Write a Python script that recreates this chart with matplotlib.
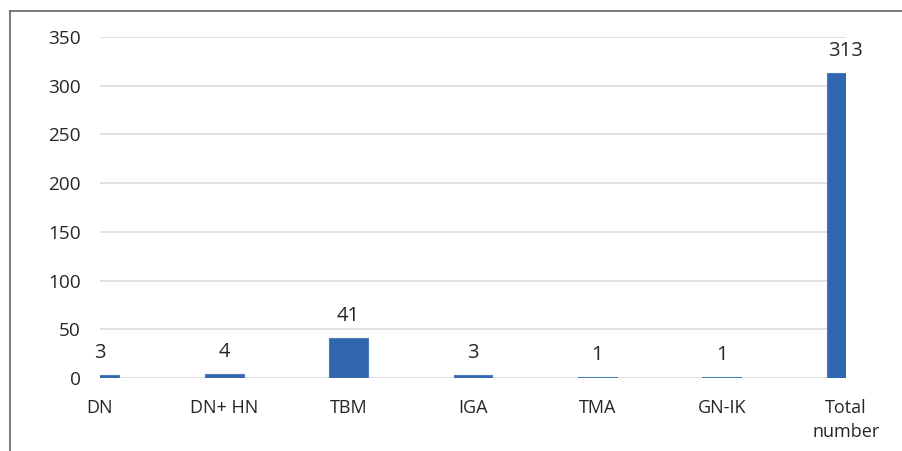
"""Bar chart of case counts per diagnosis group."""

import matplotlib
matplotlib.use("Agg")
import matplotlib.pyplot as plt
from matplotlib.lines import Line2D


# chart data
CATEGORIES = ["DN", "DN+ HN", "TBM", "IGA", "TMA", "GN-IK", "Total\nnumber"]
COUNTS = [3, 4, 41, 3, 1, 1, 313]
Y_TICKS = [0, 50, 100, 150, 200, 250, 300, 350]

# parameters for graph
WIDTH = 903
HEIGHT = 451
DPI = 100
BAR_COLOR = "#2F66AD"
GRID_COLOR = "#D9D9D9"
TEXT_COLOR = "#262626"
FONT = ["Open Sans", "DejaVu Sans"]


def draw_frame(fig):
    """Draw the thin border seen at the top and left of the picture."""
    x0 = 10.5 / WIDTH
    y0 = 1 - 10.5 / HEIGHT
    fig.add_artist(Line2D([x0, 1], [y0, y0], transform=fig.transFigure,
                          color="#6E6E6E", linewidth=1.3))
    fig.add_artist(Line2D([x0, x0], [0, y0], transform=fig.transFigure,
                          color="#6E6E6E", linewidth=1.3))


def main():
    plt.rcParams["font.family"] = FONT
    fig = plt.figure(figsize=(WIDTH / DPI, HEIGHT / DPI), dpi=DPI)
    left = 100 / WIDTH
    right = 846 / WIDTH
    bottom = 1 - 378 / HEIGHT
    top = 1 - 37 / HEIGHT
    ax = fig.add_axes([left, bottom, right - left, top - bottom])

    positions = list(range(len(CATEGORIES)))
    ax.bar(positions, COUNTS, width=0.31, color=BAR_COLOR,
           edgecolor="#4A7CBC", linewidth=0.8, zorder=3)

    for x, value in zip(positions, COUNTS):
        ax.annotate(str(value), (x, value), xytext=(0, 8.5),
                    textcoords="offset points", ha="center", va="bottom",
                    fontsize=14.5, color=TEXT_COLOR)

    ax.set_xlim(0, len(CATEGORIES) - 1)
    ax.set_ylim(0, 350)
    ax.set_yticks(Y_TICKS)
    ax.set_xticks(positions)
    ax.set_xticklabels(CATEGORIES, linespacing=1.45, multialignment="center")

    ax.tick_params(axis="y", length=0, pad=14, labelsize=13.7, labelcolor=TEXT_COLOR)
    ax.tick_params(axis="x", length=0, pad=15, labelsize=13, labelcolor=TEXT_COLOR)

    ax.grid(axis="y", color=GRID_COLOR, linewidth=1.1)
    ax.set_axisbelow(True)
    for spine in ax.spines.values():
        spine.set_visible(False)

    draw_frame(fig)

    fig.savefig("out.png", dpi=DPI)
    plt.close(fig)


if __name__ == "__main__":
    main()
